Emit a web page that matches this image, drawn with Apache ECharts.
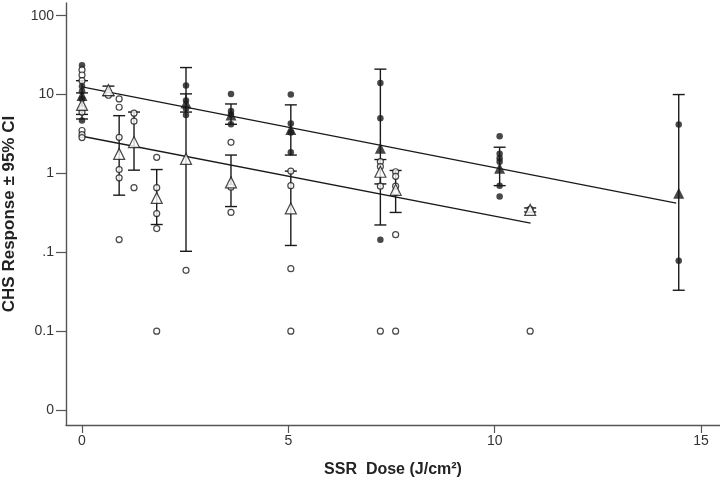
<!DOCTYPE html>
<html>
<head>
<meta charset="utf-8">
<script src="https://cdn.jsdelivr.net/npm/echarts@6/dist/echarts.min.js"></script>
<style>html,body{margin:0;padding:0;background:#fff;}#c{width:720px;height:484px;}</style>
</head>
<body>
<div id="c"></div>
<script>
// ---- data (response values on the original scale) ----
const xTicks = [0, 5, 10, 15];
const yTickValues = [100, 10, 1, 0.1, 0.01, 0.001];
const yTickLabels = ['100', '10', '1', '.1', '0.1', '0'];

// open symbols group
const openX    = [0, 0.64, 0.9, 1.26, 1.81, 2.52, 3.61, 5.06, 7.23, 7.6, 10.86];
const openPts  = [
  [20.5, 17.7, 15, 6.6, 6.0, 3.5, 3.1, 2.85],
  [10.6, 9.8],
  [8.8, 6.9, 2.87, 1.12, 0.88, 0.145],
  [5.8, 4.6, 0.66],
  [1.6, 0.66, 0.31, 0.2, 0.01],
  [0.059],
  [2.48, 0.67, 0.32],
  [1.07, 0.7, 0.062, 0.01],
  [1.41, 1.22, 0.69, 0.01],
  [1.05, 0.92, 0.69, 0.58, 0.167, 0.01],
  [0.35, 0.01]
];
const openMean = [7.4, 11.4, 1.77, 2.5, 0.49, 1.53, 0.77, 0.36, 1.05, 0.62, 0.345];
const openLow  = [5.6, 9.7, 0.53, 1.1, 0.225, 0.103, 0.38, 0.122, 0.736, 0.32, 0.325];
const openHigh = [10.5, 12.8, 5.4, 6.0, 1.12, 22, 1.71, 1.07, 1.5, 1.09, 0.365];

// filled symbols group
const fillX    = [0, 2.52, 3.61, 5.06, 7.23, 10.12, 14.46];
const fillPts  = [
  [23.5, 12.7, 11, 8.8, 4.7],
  [13, 8.4, 6.6, 5.5],
  [10.2, 6.2, 5.6, 4.2],
  [10, 4.3, 3.3, 1.86],
  [14, 5.0, 0.144],
  [2.96, 1.77, 1.56, 1.41, 0.7, 0.51],
  [4.16, 0.078]
];
const fillMean = [9.7, 7.8, 5.5, 3.6, 2.09, 1.16, 0.56];
const fillLow  = [4.9, 6.0, 4.2, 1.71, 0.222, 0.7, 0.033];
const fillHigh = [15, 10.2, 7.6, 7.4, 21, 2.15, 10];

// regression lines (end points)
const fillLineX = [0, 14.4];
const fillLineY = [12.5, 0.42];
const openLineX = [0, 10.87];
const openLineY = [2.96, 0.234];

// ---- build ----
const L = v => Math.log10(v);
const pts = (xs, arr) => { const o = []; xs.forEach((x, i) => arr[i].forEach(v => o.push([x, L(v)]))); return o; };
const means = (xs, m) => xs.map((x, i) => [x, L(m[i])]);
const bars = (xs, lo, hi) => xs.map((x, i) => [x, L(lo[i]), L(hi[i])]);
const line = (xs, ys) => xs.map((x, i) => [x, L(ys[i])]);
const INK = '#1a1a1a';

function errItem(params, api) {
  const p1 = api.coord([api.value(0), api.value(1)]);
  const p2 = api.coord([api.value(0), api.value(2)]);
  const w = 6;
  const st = { stroke: INK, lineWidth: 1.4 };
  return { type: 'group', children: [
    { type: 'line', shape: { x1: p1[0], y1: p1[1], x2: p2[0], y2: p2[1] }, style: st },
    { type: 'line', shape: { x1: p1[0] - w, y1: p1[1], x2: p1[0] + w, y2: p1[1] }, style: st },
    { type: 'line', shape: { x1: p2[0] - w, y1: p2[1], x2: p2[0] + w, y2: p2[1] }, style: st }
  ]};
}

const chart = echarts.init(document.getElementById('c'), null, { renderer: 'canvas' });
chart.setOption({
  animation: false,
  backgroundColor: '#fff',
  grid: { left: 66, right: 0, top: 3, bottom: 59, containLabel: false, outerBoundsMode: 'none' },
  xAxis: {
    type: 'value', min: -0.388, max: 15.46,
    name: 'SSR  Dose (J/cm²)', nameLocation: 'middle', nameGap: 37,
    nameTextStyle: { fontFamily: 'Liberation Sans, Arial', fontWeight: 'bold', fontSize: 16, color: '#222' },
    axisLine: { onZero: false, lineStyle: { color: '#555', width: 1.4 } },
    axisTick: { customValues: xTicks, length: 8, lineStyle: { color: '#555', width: 1.2 } },
    axisLabel: { customValues: xTicks, margin: 9, fontFamily: 'Liberation Sans, Arial', fontSize: 14, color: '#333' },
    splitLine: { show: false }
  },
  yAxis: {
    type: 'value', min: -3.19, max: 2.161,
    name: 'CHS Response ± 95% CI', nameLocation: 'middle', nameGap: 48, nameRotate: 90,
    nameTextStyle: { fontFamily: 'Liberation Sans, Arial', fontWeight: 'bold', fontSize: 17, color: '#222' },
    axisLine: { onZero: false, lineStyle: { color: '#555', width: 1.4 } },
    axisTick: { customValues: yTickValues.map(L), length: 10, lineStyle: { color: '#555', width: 1.2 } },
    axisLabel: {
      customValues: yTickValues.map(L), margin: 12, fontFamily: 'Liberation Sans, Arial', fontSize: 14, color: '#333',
      formatter: v => { const i = yTickValues.findIndex(t => Math.abs(L(t) - v) < 1e-6); return i >= 0 ? yTickLabels[i] : ''; }
    },
    splitLine: { show: false }
  },
  series: [
    { type: 'custom', renderItem: errItem, data: bars(openX, openLow, openHigh), z: 2 },
    { type: 'custom', renderItem: errItem, data: bars(fillX, fillLow, fillHigh), z: 2 },
    { type: 'line', data: line(fillLineX, fillLineY), symbol: 'none', lineStyle: { color: INK, width: 1.3 }, z: 3 },
    { type: 'line', data: line(openLineX, openLineY), symbol: 'none', lineStyle: { color: INK, width: 1.3 }, z: 3 },
    { type: 'scatter', data: pts(fillX, fillPts), symbol: 'circle', symbolSize: 6.5, itemStyle: { color: INK }, z: 4 },
    { type: 'scatter', data: pts(openX, openPts), symbol: 'circle', symbolSize: 6, itemStyle: { color: '#fff', borderColor: INK, borderWidth: 1.2 }, z: 5 },
    { type: 'scatter', data: means(fillX, fillMean), symbol: 'triangle', symbolSize: 11, itemStyle: { color: INK }, z: 6 },
    { type: 'scatter', data: means(openX, openMean), symbol: 'triangle', symbolSize: 11, itemStyle: { color: '#fff', borderColor: INK, borderWidth: 1.2 }, z: 6 }
  ]
});
</script>
</body>
</html>
